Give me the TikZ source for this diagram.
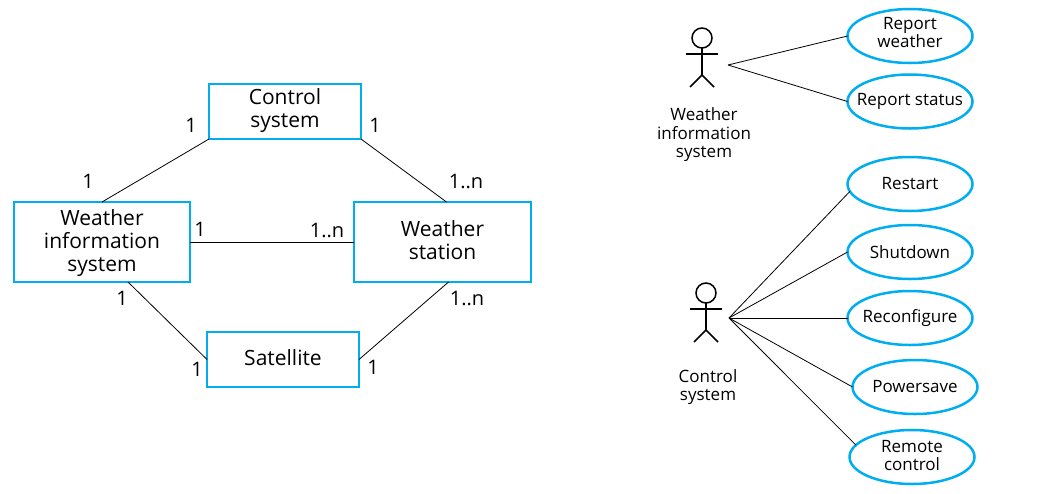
\documentclass[tikz,border=0pt]{standalone}
\usepackage{fontspec}
\setmainfont{Open Sans}
\definecolor{bordo}{HTML}{00AEEF}
\tikzset{
    classbox/.style={draw=bordo, line width=2.9pt, align=center, inner sep=0pt, outer sep=0pt,
        font=\fontsize{21}{23}\selectfont},
    usecase/.style={draw=bordo, line width=2.5pt, ellipse, align=center, inner xsep=-20pt, inner ysep=-8pt, outer sep=0pt,
        minimum width=125pt, minimum height=54pt, font=\fontsize{17}{18}\selectfont},
    mult/.style={inner sep=0pt, font=\fontsize{20}{22}\selectfont},
    actorname/.style={align=center, inner sep=0pt, font=\fontsize{17}{18.5}\selectfont},
    link/.style={line width=0.8pt}
}
\usetikzlibrary{shapes.geometric}
% Extra depth below a last line, to lift the text a little
\def\lift#1{\rule[-#1]{0pt}{#1}}
\begin{document}
\begin{tikzpicture}[x=1pt, y=-1pt]

    % Stick figure: head centre at #1, #2
    \def\actor#1#2{%
        \draw[line width=1.5pt] (#1,#2) circle (10);%
        \draw[line width=1.5pt] (#1,#2+10) -- (#1,#2+37);%
        \draw[line width=1.5pt] (#1-16,#2+16) -- (#1+16,#2+16);%
        \draw[line width=1.5pt] (#1-12,#2+49) -- (#1,#2+37) -- (#1+12,#2+49);%
    }

    \useasboundingbox (0,0) rectangle (1052,493);

    % -- Left: object classes --
    \node[classbox, minimum width=152pt, minimum height=55pt] (control) at (285,111.5) {Control\\system\lift{7pt}};
    \node[classbox, minimum width=176pt, minimum height=80pt] (wis) at (102,242) {\rule{0pt}{18pt}Weather\\information\\system};
    \node[classbox, minimum width=177pt, minimum height=80pt] (station) at (442.5,242) {Weather\\station\lift{4pt}};
    \node[classbox, minimum width=152pt, minimum height=55pt] (satellite) at (283,359.5) {Satellite\lift{4pt}};

    \draw[link] (control.south west) -- (wis.north);
    \draw[link] (control.south east) -- ([xshift=4pt]station.north);
    \draw[link] (wis.east) -- (station.west);
    \draw[link] ([xshift=26pt]wis.south) -- (satellite.west);
    \draw[link] ([xshift=6pt]station.south) -- (satellite.east);

    % Multiplicities
    \node[mult] (m1) at (191,125) {1};
    \node[mult] (m2) at (375,125) {1};
    \node[mult] (m3) at (88,181) {1};
    \node[mult] (m4) at (466,181) {1..n};
    \node[mult] (m5) at (200,229) {1};
    \node[mult] (m6) at (327,230) {1..n};
    \node[mult] (m7) at (122,298) {1};
    \node[mult] (m8) at (467,298) {1..n};
    \node[mult] (m9) at (197,369) {1};
    \node[mult] (m10) at (373,367) {1};

    % -- Right: use cases --
    \actor{702}{38}
    \actor{706}{293}

    \node[actorname] (wisname) at (704,135) {Weather\\information\\system};
    \node[actorname] (controlname) at (708,387) {Control\\system};

    \coordinate (wishub) at (728,65);
    \coordinate (controlhub) at (729,318);

    \node[usecase] (weather) at (910,36) {Report\\weather\lift{8pt}};
    \node[usecase] (status) at (910,101.5) {Report status};
    \node[usecase] (restart) at (910,184) {Restart};
    \node[usecase] (shutdown) at (910,252) {Shutdown};
    \node[usecase] (reconfigure) at (910,318) {Reconfigure};
    \node[usecase] (powersave) at (915,387) {Powersave};
    \node[usecase] (remote) at (912,457) {Remote\\control\lift{4pt}};

    \draw[link] (wishub) -- (weather.west);
    \draw[link] (wishub) -- (status.west);
    \draw[link] (controlhub) -- (restart.187);
    \draw[link] (controlhub) -- (shutdown.west);
    \draw[link] (controlhub) -- (reconfigure.west);
    \draw[link] (controlhub) -- (powersave.west);
    \draw[link] (controlhub) -- (remote.168);

\end{tikzpicture}
\end{document}
